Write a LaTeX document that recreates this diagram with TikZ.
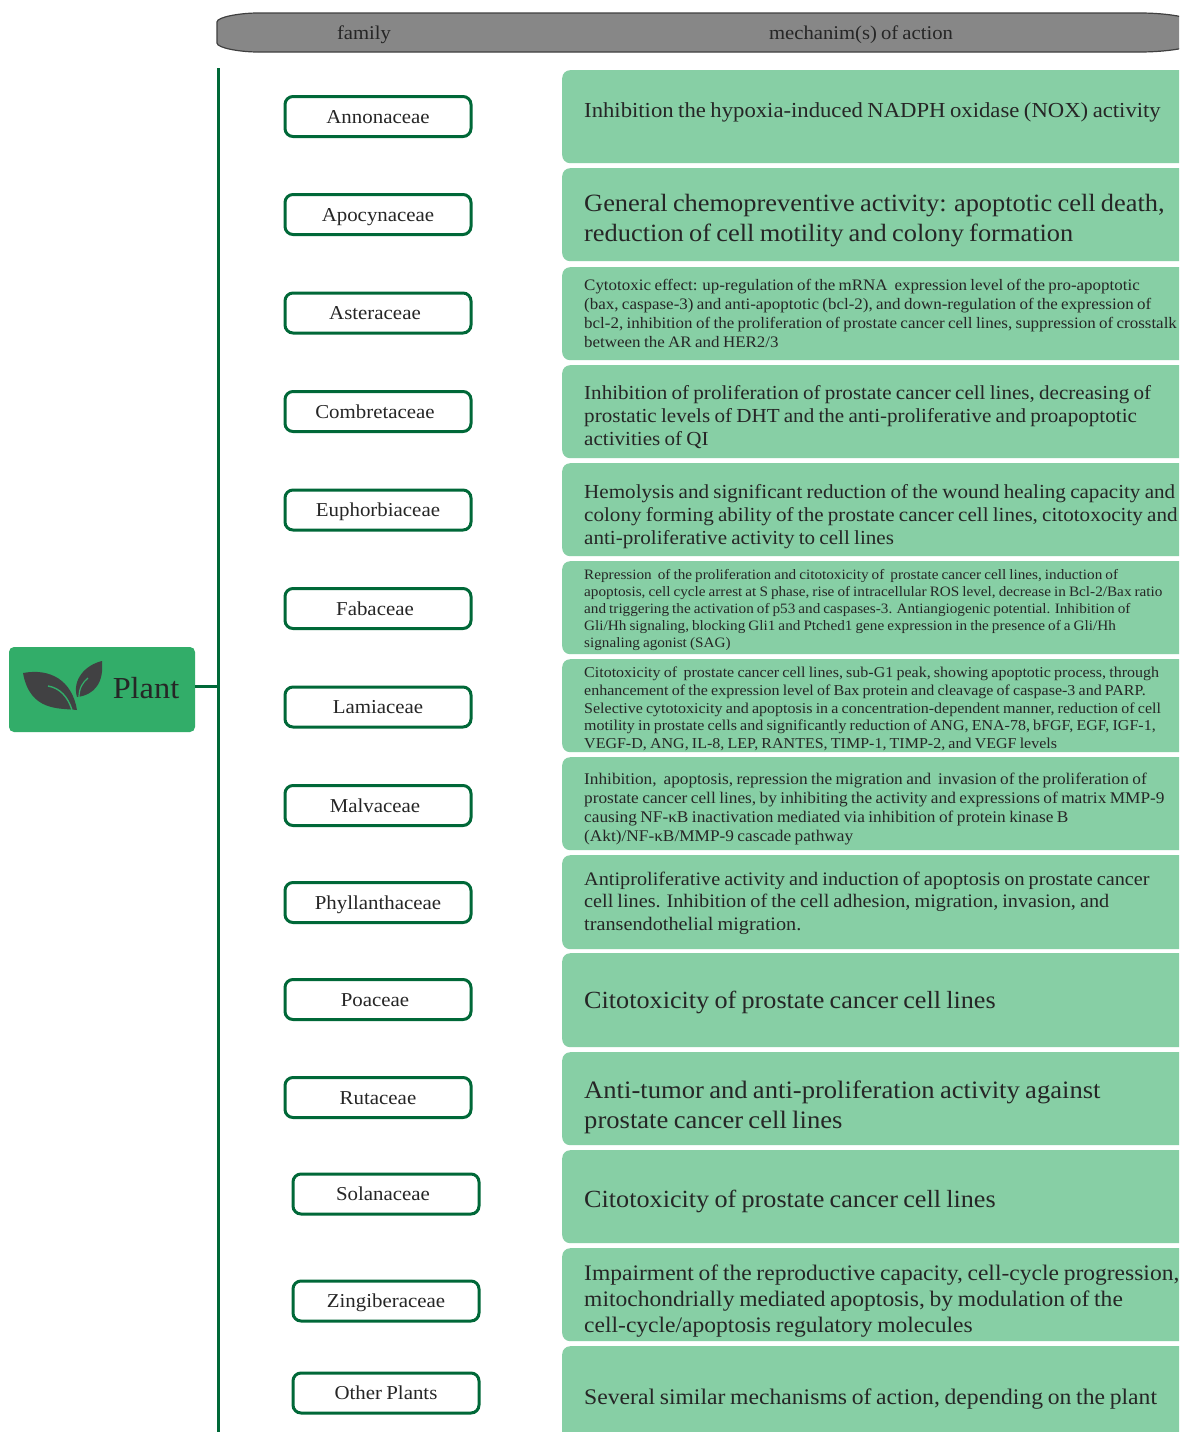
\documentclass[tikz,border=0pt]{standalone}
\usepackage{fontspec}
\setmainfont[FakeStretch=1.06,WordSpace=0.8]{Liberation Serif}
\definecolor{mechgreen}{RGB}{135,207,165}
\definecolor{plantgreen}{RGB}{50,173,105}
\definecolor{linegreen}{RGB}{0,104,56}
\definecolor{headgray}{RGB}{135,135,135}
\definecolor{leafgray}{RGB}{65,65,67}
\definecolor{inkdark}{RGB}{38,38,38}
\tikzset{
  mechbox/.style={fill=mechgreen,rounded corners=8pt,inner sep=0pt,anchor=north west,minimum width=660pt},
  mechtext/.style={anchor=west,inner sep=0pt,align=left,text=inkdark},
  familybox/.style={draw=linegreen,line width=3pt,fill=white,rounded corners=8pt,inner sep=0pt,minimum width=186pt,minimum height=40pt,text=inkdark,text height=18pt,text depth=5pt,font=\fontsize{19.7}{24}\selectfont},
  headtext/.style={inner sep=0pt,text=inkdark,text height=14pt,text depth=5pt,font=\fontsize{19.5}{24}\selectfont},
  trunk/.style={draw=linegreen,line width=3pt},
}
\newcommand{\mechitem}[7]{% name, top, bottom, text centre y, size, baseline, text
  \node[mechbox,minimum height=#3pt-#2pt] (b#1) at (562,#2) {};
  \node[mechtext,font=\fontsize{#5}{#6}\selectfont] (t#1) at (584,#4) {#7};
}
\newcommand{\famitem}[5]{% name, centre x, centre y, text shift, text
  \node[familybox] (f#1) at (#2,#3) {\hspace*{#4pt}#5};
}
\begin{document}
\begin{tikzpicture}[x=1pt,y=-1pt]
\clip (0,0) rectangle (1179,1432);
\fill[white] (0,0) rectangle (1179,1432);
% header
\draw[fill=headgray,draw=black!75,line width=1.2pt] (258,13) -- (1140,13) .. controls (1165,13) and (1195,17) .. (1195,24) -- (1195,42) .. controls (1195,48) and (1165,52) .. (1140,52) -- (258,52) .. controls (240,52) and (217,48) .. (217,43) -- (217,22) .. controls (217,17) and (240,13) .. (258,13) -- cycle;
\node[headtext] (hfam) at (364,35) {family};
\node[headtext] (hmech) at (861,35) {mechanim(s) of action};
% trunk
\coordinate (ttop) at (218,68);
\coordinate (tbot) at (218,1440);
\coordinate (tj) at (218,686);
\draw[trunk] (ttop) -- (tbot);
% plant
\node[fill=plantgreen,rounded corners=5pt,inner sep=0pt,minimum width=186pt,minimum height=85pt] (plant) at (102,689.5) {};
\node[inner sep=0pt,text=inkdark,font=\fontsize{30.5}{36}\selectfont] (plantlabel) at (146,688.5) {Plant};
\draw[trunk] (plant.east |- tj) -- (tj);
\fill[leafgray] (23,673) .. controls (50,668) and (72,680) .. (77,710) .. controls (60,708) and (30,712) .. (23,673) -- cycle;
\fill[leafgray] (102,661) .. controls (85,665) and (72,680) .. (77,697) .. controls (95,695) and (104,682) .. (102,661) -- cycle;
\draw[plantgreen,line width=1.4pt] (48,686) .. controls (60,688) and (68,697) .. (72,710);
\draw[plantgreen,line width=1.2pt] (79,697) .. controls (79,688) and (83,682) .. (88,678);
% families
\famitem{1}{378}{116.5}{0}{Annonaceae}
\famitem{2}{378}{214.5}{0}{Apocynaceae}
\famitem{3}{378}{313}{-6}{Asteraceae}
\famitem{4}{378}{411.5}{-6}{Combretaceae}
\famitem{5}{378}{510}{0}{Euphorbiaceae}
\famitem{6}{378}{608.5}{-6}{Fabaceae}
\famitem{7}{378}{707}{0}{Lamiaceae}
\famitem{8}{378}{805.5}{-6}{Malvaceae}
\famitem{9}{378}{902.5}{0}{Phyllanthaceae}
\famitem{10}{378}{999.5}{-6}{Poaceae}
\famitem{11}{378}{1097.5}{0}{Rutaceae}
\famitem{12}{386}{1194}{-6}{Solanaceae}
\famitem{13}{386}{1301}{0}{Zingiberaceae}
\famitem{14}{386}{1393}{0}{Other Plants}
% mechanisms
\mechitem{1}{70}{163}{112}{21.4}{26}{Inhibition the hypoxia-induced NADPH oxidase (NOX) activity}
\mechitem{2}{168}{261}{221}{24.9}{30}{General chemopreventive activity: apoptotic cell death,\\reduction of cell motility and colony formation}
\mechitem{3}{267}{360}{313}{16}{19}{Cytotoxic effect: up-regulation of the mRNA\ \ expression level of the pro-apoptotic\\(bax, caspase-3) and anti-apoptotic (bcl-2), and down-regulation of the expression of\\bcl-2, inhibition of the proliferation of prostate cancer cell lines, suppression of crosstalk\\between the AR and HER2/3}
\mechitem{4}{365}{458}{417}{19.9}{23}{Inhibition of proliferation of prostate cancer cell lines, decreasing of\\prostatic levels of DHT and the anti-proliferative and proapoptotic\\activities of QI}
\mechitem{5}{463}{556}{517}{19.9}{23}{Hemolysis and significant reduction of the wound healing capacity and\\colony forming ability of the prostate cancer cell lines, citotoxocity and\\anti-proliferative activity to cell lines}
\mechitem{6}{561}{654}{610}{14.35}{17}{Repression\ \ of the proliferation and citotoxicity of\ \ prostate cancer cell lines, induction of\\apoptosis, cell cycle arrest at S phase, rise of intracellular ROS level, decrease in Bcl-2/Bax ratio\\and triggering the activation of p53 and caspases-3. Antiangiogenic potential. Inhibition of\\Gli/Hh signaling, blocking Gli1 and Ptched1 gene expression in the presence of a Gli/Hh\\signaling agonist (SAG)}
\mechitem{7}{659}{752}{709}{15.1}{17.8}{Citotoxicity of\ \ prostate cancer cell lines, sub-G1 peak, showing apoptotic process, through\\enhancement of the expression level of Bax protein and cleavage of caspase-3 and PARP.\\Selective cytotoxicity and apoptosis in a concentration-dependent manner, reduction of cell\\motility in prostate cells and significantly reduction of ANG, ENA-78, bFGF, EGF, IGF-1,\\VEGF-D, ANG, IL-8, LEP, RANTES, TIMP-1, TIMP-2, and VEGF levels}
\mechitem{8}{757}{850}{809.5}{16.3}{19}{Inhibition,\ \ apoptosis, repression the migration and\ \ invasion of the proliferation of\\prostate cancer cell lines, by inhibiting the activity and expressions of matrix MMP-9\\causing NF-κB inactivation mediated via inhibition of protein kinase B\\(Akt)/NF-κB/MMP-9 cascade pathway}
\mechitem{9}{855}{949}{903}{19.1}{22.5}{Antiproliferative activity and induction of apoptosis on prostate cancer\\cell lines. Inhibition of the cell adhesion, migration, invasion, and\\transendothelial migration.}
\mechitem{10}{953}{1047}{1002}{24.7}{30}{Citotoxicity of prostate cancer cell lines}
\mechitem{11}{1052}{1145}{1107.5}{25.1}{29.5}{Anti-tumor and anti-proliferation activity against\\prostate cancer cell lines}
\mechitem{12}{1150}{1243}{1201}{24.7}{30}{Citotoxicity of prostate cancer cell lines}
\mechitem{13}{1248}{1341}{1301}{22.2}{26}{Impairment of the reproductive capacity, cell-cycle progression,\\mitochondrially mediated apoptosis, by modulation of the\\cell-cycle/apoptosis regulatory molecules}
\mechitem{14}{1346}{1460}{1399}{22.3}{26}{Several similar mechanisms of action, depending on the plant}
\end{tikzpicture}
\end{document}
